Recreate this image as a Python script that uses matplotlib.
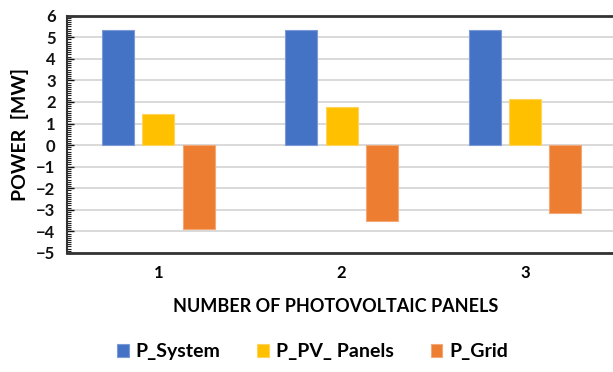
import numpy as np
import matplotlib
matplotlib.use('Agg')
import matplotlib.pyplot as plt
from matplotlib.ticker import MultipleLocator

plt.rcParams['font.family'] = ['Lato', 'DejaVu Sans']
plt.rcParams['font.weight'] = 'bold'

categories = ['1', '2', '3']
p_system = [5.32, 5.32, 5.32]
p_pv_panels = [1.42, 1.77, 2.14]
p_grid = [-3.90, -3.52, -3.16]

series = [
    ('P_System', p_system, '#4472C4', '#7c9ad6'),
    ('P_PV_ Panels', p_pv_panels, '#FFC000', '#ffd45c'),
    ('P_Grid', p_grid, '#ED7D31', '#f4a878'),
]

fig = plt.figure(figsize=(6.13, 3.72), dpi=100)
ax = fig.add_axes([0.1088, 0.320, 0.897, 0.638])

x = np.arange(len(categories))
width = 0.175
step = 0.22
for i, (name, vals, col, edge) in enumerate(series):
    ax.bar(x + (i - 1) * step, vals, width, color=col, edgecolor=edge,
           linewidth=0.8, label=name, zorder=3)

ax.set_xlim(-0.5, len(categories) - 0.5)
ax.set_ylim(-5, 6)
ax.set_xticks(x)
ax.set_xticklabels(categories)
ax.yaxis.set_major_locator(MultipleLocator(1))
ax.yaxis.set_minor_locator(MultipleLocator(0.1))
ax.grid(axis='y', color='#d9d9d9', linewidth=1.4, zorder=0)

for s in ['top', 'bottom', 'left']:
    ax.spines[s].set_color('#333333')
    ax.spines[s].set_zorder(4)
ax.spines['top'].set_linewidth(2.0)
ax.spines['bottom'].set_linewidth(2.0)
ax.spines['left'].set_linewidth(1.5)
ax.spines['right'].set_visible(False)
ax.set_axisbelow(False)

ax.tick_params(axis='y', which='major', direction='in', length=5, width=1,
               labelsize=12, pad=8, colors='#111111')
ax.tick_params(axis='y', which='minor', direction='in', length=3, width=0.8,
               colors='#222222')
ax.tick_params(axis='x', length=0, labelsize=12, pad=9)
for lab in ax.get_xticklabels() + ax.get_yticklabels():
    lab.set_fontweight('bold')

ax.set_ylabel('POWER  [MW]', fontsize=14, fontweight='bold', labelpad=5)
ax.set_xlabel('NUMBER OF PHOTOVOLTAIC PANELS', fontsize=13, fontweight='bold')
ax.xaxis.set_label_coords(0.49, -0.19)

fig.legend(loc='center', bbox_to_anchor=(0.51, 0.054), ncol=3, frameon=False,
           handlelength=0.6, handleheight=0.6, columnspacing=1.9,
           handletextpad=0.35, prop={'size': 14, 'weight': 'bold'})

fig.savefig('out.png', dpi=100)
